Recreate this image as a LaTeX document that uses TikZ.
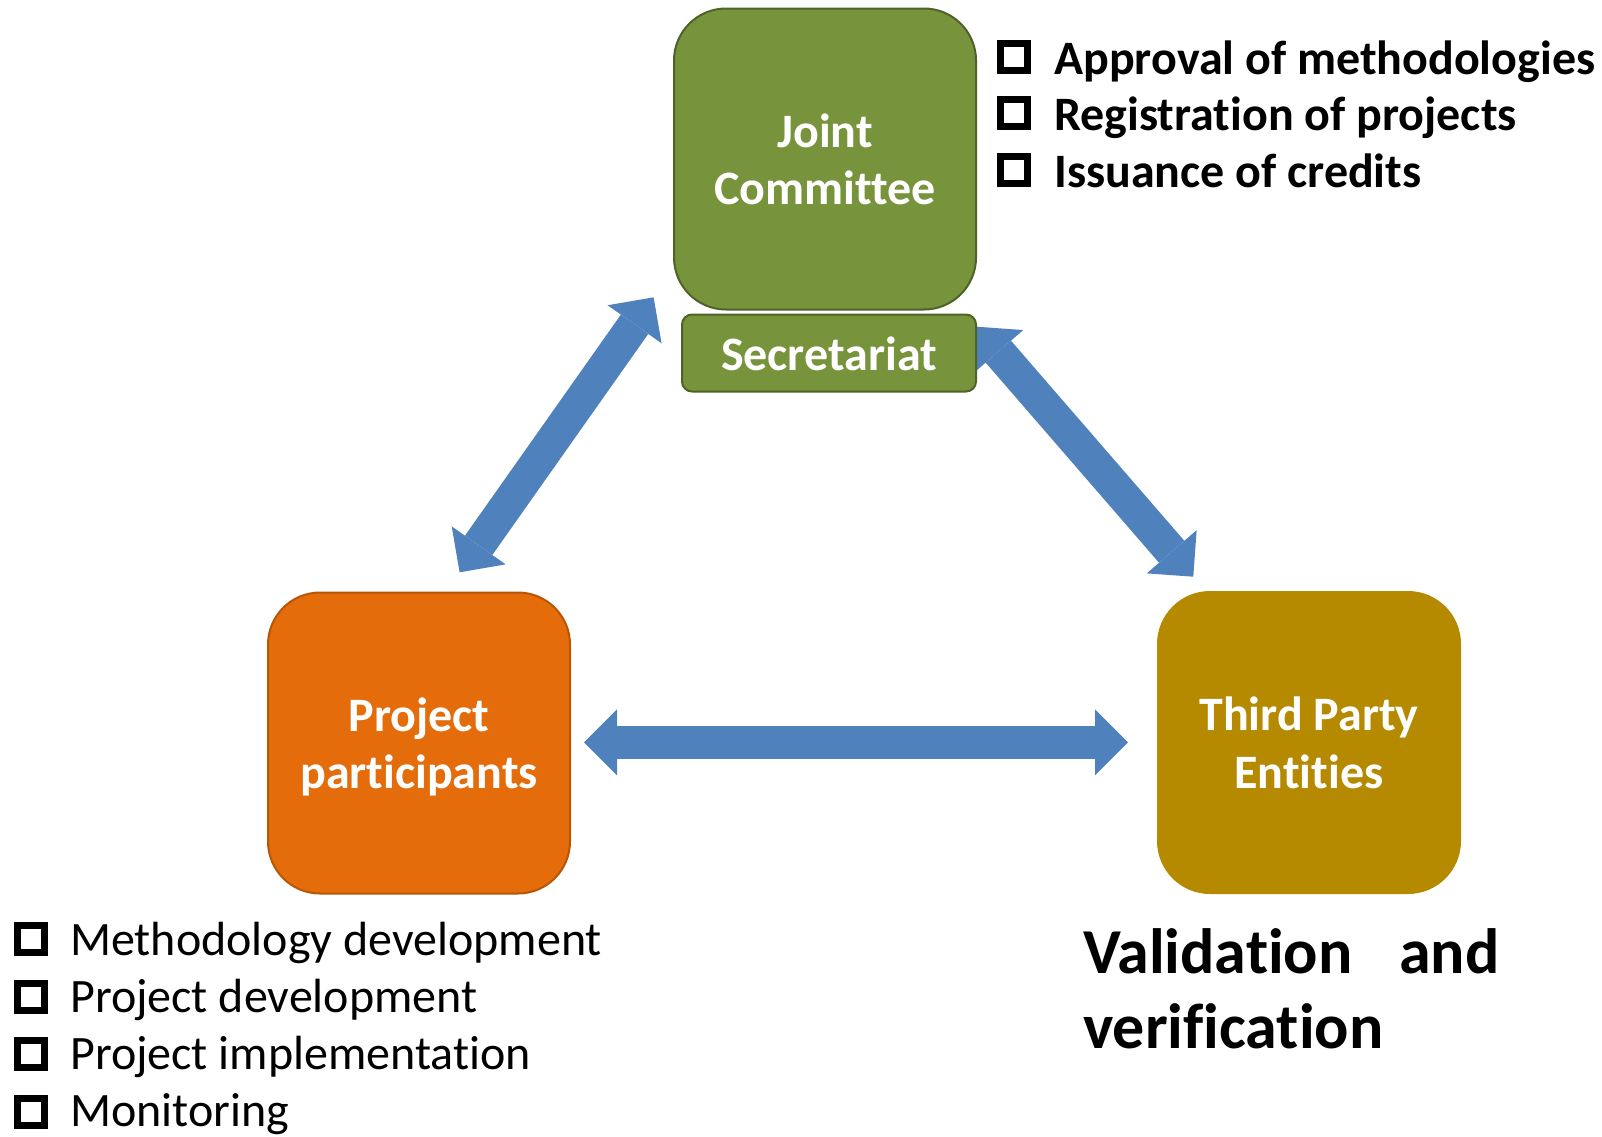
\documentclass[tikz,border=0pt]{standalone}
\usepackage{fontspec}
\setmainfont{Carlito}[Ligatures={NoCommon,NoRequired,NoContextual}]
\usetikzlibrary{arrows.meta,backgrounds}
\definecolor{jcgreen}{HTML}{77933C}
\definecolor{jcborder}{HTML}{4F6228}
\definecolor{pporange}{HTML}{E46C0A}
\definecolor{ppborder}{HTML}{B65708}
\definecolor{tpgold}{HTML}{B58A00}
\definecolor{arrowblue}{HTML}{4F81BD}
\newcommand{\bxstrut}{\rule[-8pt]{0pt}{50pt}}
\begin{document}
\begin{tikzpicture}[x=1pt,y=-1pt,
  box/.style={draw, line width=2pt, text=white, inner sep=0pt, align=center,
    font=\fontsize{48}{57.5}\selectfont\bfseries},
  bigbox/.style={box, rounded corners=52pt, minimum width=302pt, minimum height=301pt},
  bigarrow/.style={draw=arrowblue, line width=33.5pt,
    {Triangle[width=66pt,length=33pt,line width=0pt]}-{Triangle[width=66pt,length=33pt,line width=0pt]}},
  sqbullet/.style={draw=black, line width=7pt, minimum size=27pt, inner sep=0pt},
  itemB/.style={font=\fontsize{48}{57.5}\selectfont\bfseries, anchor=base west, inner sep=0pt},
  itemN/.style={font=\fontsize{48}{57.5}\selectfont, anchor=base west, inner sep=0pt}]
\useasboundingbox (0,0) rectangle (1602,1136);

% boxes
\node[bigbox, fill=jcgreen, draw=jcborder] (jc) at (825,159) {\bxstrut Joint\\Committee\bxstrut};
\node[box, fill=jcgreen, draw=jcborder, rounded corners=10pt, minimum width=294pt, minimum height=77pt] (sec) at (829,353) {\bxstrut Secretariat};
\node[bigbox, fill=pporange, draw=ppborder] (pp) at (419,743) {\bxstrut Project\\participants\bxstrut};
\node[bigbox, fill=tpgold, draw=tpgold] (tp) at (1309,742.5) {\bxstrut Third Party\\Entities\bxstrut};

% arrows
\coordinate (hL) at (584,742.3);
\coordinate (hR) at (1128,742.3);
\coordinate (lU) at (653.6,297.3);
\coordinate (lD) at (459.6,572.3);
\coordinate (rU) at (976.7,326.7);
\coordinate (rD) at (1193.3,576.7);
\begin{scope}[on background layer]
\draw[bigarrow] (hL) -- (hR);
\draw[bigarrow] (lU) -- (lD);
\draw[bigarrow] (rU) -- (rD);
\end{scope}

% right list
\node[sqbullet] (rb1) at (1014,56.7) {};
\node[sqbullet] (rb2) at (1014,112.5) {};
\node[sqbullet] (rb3) at (1014,170) {};
\node[itemB] (rt1) at (1054,74) {Approval of methodologies};
\node[itemB] (rt2) at (1054,130) {Registration of projects};
\node[itemB] (rt3) at (1054,187.3) {Issuance of credits};

% left list
\node[sqbullet] (lb1) at (30.5,939) {};
\node[sqbullet] (lb2) at (30.5,996.5) {};
\node[sqbullet] (lb3) at (30.5,1054) {};
\node[sqbullet] (lb4) at (30.5,1111.5) {};
\node[itemN] (lt1) at (70,955) {Methodology development};
\node[itemN] (lt2) at (70,1012.2) {Project development};
\node[itemN] (lt3) at (70,1069.4) {Project implementation};
\node[itemN] (lt4) at (70,1126.7) {Monitoring};

% validation text
\node[anchor=base west, inner sep=0pt, text width=416pt, align=left,
  font=\fontsize{64}{75}\selectfont\bfseries] (val) at (1083,973.3)
  {Validation\hfill and\\verification};
\end{tikzpicture}
\end{document}
